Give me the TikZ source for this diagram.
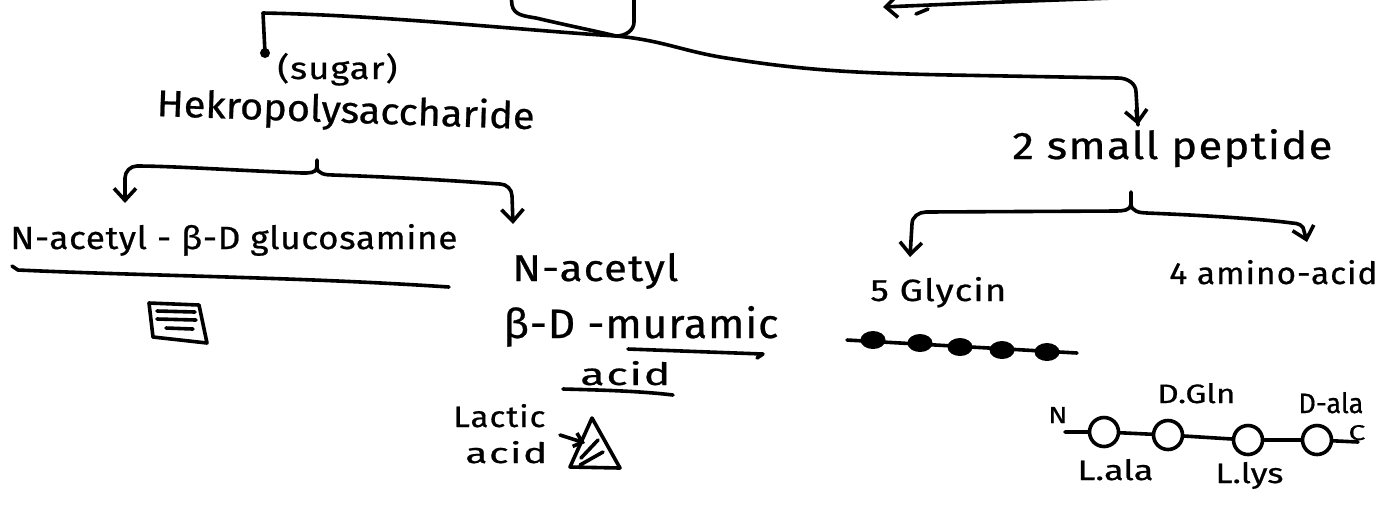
\documentclass[tikz,border=0pt]{standalone}
\usepackage{fontspec}
\setmainfont{Fira Sans}[FakeBold=0.6]
\usetikzlibrary{arrows.meta,shapes.geometric}
% text boxed to a given width and height (drawing units, 1 unit = 0.5pt),
% with optional letter spacing to keep the glyphs from stretching too much
\newlength\pxu
\setlength\pxu{0.5pt}
\newcommand\hw[4][0]{\resizebox{#2\pxu}{#3\pxu}{\addfontfeature{LetterSpace=#1}#4}}
\begin{document}
\begin{tikzpicture}[x=0.5pt,y=-0.5pt,
  ink/.style={line width=1.8pt,line cap=round,line join=round},
  tip/.style={-{Straight Barb[length=6pt,width=11pt]}},
  lbl/.style={inner sep=0pt,anchor=base west,font=\fontsize{20}{24}\selectfont},
  bead/.style={ellipse,fill=black,minimum width=12.5pt,minimum height=9pt,inner sep=0pt},
  ring/.style={circle,draw,ink,fill=white,minimum size=14.5pt,inner sep=0pt},
  dot/.style={circle,fill=black,minimum size=5pt,inner sep=0pt}]
\fill[white] (0,0) rectangle (1396,511);
\useasboundingbox (0,0) rectangle (1396,511);

% ---- labels ----
\node[lbl] (sug) at (277,79) {\hw[3]{120}{26}{(sugar)}};
\node[lbl,rotate=-2] (hek) at (156,116) {\hw{378}{29}{Hekropolysaccharide}};
\node[lbl] (glc) at (10,249) {\hw[2]{447}{25}{N-acetyl - β-D glucosamine}};
\node[lbl] (nac) at (512,281) {\hw[3]{166}{28}{N-acetyl}};
\node[lbl] (mur) at (503,338) {\hw[2]{275}{32}{β-D -muramic}};
\node[lbl] (acd) at (580,385) {\hw[4]{90}{24}{acid}};
\node[lbl] (lac) at (453,427) {\hw[3]{92}{23}{Lactic}};
\node[lbl] (lacb) at (465,463) {\hw[4]{82}{22}{acid}};
\node[lbl] (pep) at (1012,159) {\hw[3]{320}{30}{2 small peptide}};
\node[lbl] (gly) at (870,301) {\hw[3]{136}{24}{5 Glycin}};
\node[lbl] (ami) at (1169,284) {\hw[3]{208}{24}{4 amino-acid}};
\node[lbl] (gln) at (1157,403) {\hw{78}{20}{D.Gln}};
\node[lbl] (dal) at (1298,413) {\hw{65}{21}{D-ala}};
\node[lbl] (lal) at (1077,480) {\hw{76}{21}{L.ala}};
\node[lbl] (lly) at (1215,483) {\hw{68}{21}{L.lys}};
\node[lbl] (nt) at (1048,423) {\hw{19}{16}{N}};
\node[lbl] (ct) at (1348,440) {\hw{17}{15}{C}};

% ---- top strokes ----
\draw[ink] (511,-5) -- (512,5) to[out=-80,in=170] (536,18)
  .. controls (570,26) and (600,32) .. (616,36) to[out=0,in=-90] (634,22) -- (634,-5);
\coordinate (topR) at (1142,-3);
\coordinate (topL) at (883,7);
\draw[ink,tip] (topR) .. controls (1000,2) .. (topL);
\draw[ink] (916,14) -- (928,9);

% ---- main branch: sugar on the left, peptide on the right ----
\node[dot] (sb) at (265,53) {};
\coordinate (pepIn) at (1138,125);
\draw[ink] (sb.center) -- (263,13) .. controls (380,15) and (520,30) .. (616,36)
  .. controls (660,40) and (680,50) .. (720,57)
  .. controls (800,70) and (850,73) .. (950,75) -- (1118,78)
  to[out=0,in=90] (1136,92) -- (pepIn);
\draw[ink,tip] (1136,110) -- (pepIn);

% ---- heteropolysaccharide split ----
\coordinate (b1) at (317,160);
\coordinate (glcIn) at (125,203);
\coordinate (nacIn) at (513,224);
\draw[ink,tip] (b1) -- (317,167) to[out=-90,in=0] (302,173)
  .. controls (230,170) and (170,166) .. (137,166) to[out=180,in=90] (125,178) -- (glcIn);
\draw[ink,tip] (317,167) to[out=-90,in=180] (333,175)
  .. controls (420,178) and (470,182) .. (500,184) to[out=0,in=90] (512,196) -- (nacIn);

% ---- peptide split ----
\coordinate (b2) at (1131,192);
\coordinate (glyIn) at (910,257);
\coordinate (amiIn) at (1307,242);
\draw[ink,tip] (b2) -- (1131,204) to[out=-90,in=0] (1116,211) -- (926,212)
  to[out=180,in=90] (912,224) -- (glyIn);
\draw[ink,tip] (1131,204) to[out=-90,in=180] (1147,213)
  .. controls (1220,216) and (1270,220) .. (1292,223) to[out=0,in=90] (1304,231) -- (amiIn);

% ---- underlines ----
\draw[ink] (12,266) -- (18,270) .. controls (150,276) and (300,277) .. (449,287);
\draw[ink] (628,349) -- (763,354) -- (757,358);
\draw[ink] (563,389) .. controls (600,390) and (640,391) .. (673,395);

% ---- glucosamine sketch ----
\draw[ink] (149,303) -- (199,305) -- (207,343) -- (153,337) -- cycle;
\draw[ink] (157,311) -- (195,312);
\draw[ink] (157,319) -- (196,320);
\draw[ink] (166,328) -- (193,329);

% ---- lactic acid triangle ----
\draw[ink] (592,418) -- (570,467) -- (620,468) -- cycle;
\coordinate (lacA) at (560,435);
\coordinate (lacB) at (585,443);
\draw[ink,-{Straight Barb[length=4pt,width=7pt]}] (lacA) -- (lacB);
\draw[ink] (581,458) -- (598,440);
\draw[ink] (580,465) -- (603,452);

% ---- five glycines ----
\coordinate (gL) at (847,340);
\coordinate (gR) at (1077,353);
\draw[ink] (gL) -- (gR);
\node[bead] (g1) at (873,340) {};
\node[bead] (g2) at (920,343) {};
\node[bead] (g3) at (960,347) {};
\node[bead] (g4) at (1002,350) {};
\node[bead] (g5) at (1047,352) {};

% ---- tetrapeptide ----
\coordinate (pL) at (1065,432);
\coordinate (pR) at (1358,442);
\node[ring] (p1) at (1104,432) {};
\node[ring] (p2) at (1168,435) {};
\node[ring] (p3) at (1248,440) {};
\node[ring] (p4) at (1317,440) {};
\draw[ink] (pL) -- (p1) -- (p2) -- (p3) -- (p4) -- (pR);
\end{tikzpicture}
\end{document}
